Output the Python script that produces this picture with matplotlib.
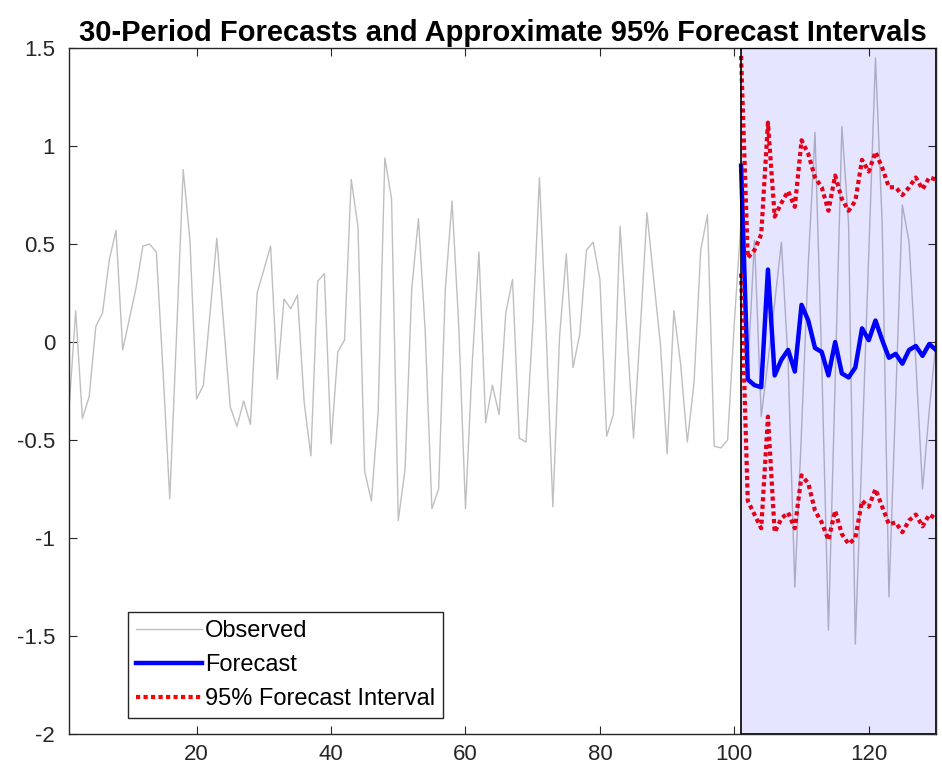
import numpy as np
import matplotlib
matplotlib.use('Agg')
import matplotlib.pyplot as plt

plt.rcParams['font.family'] = ['Liberation Sans', 'DejaVu Sans']

# observed series, periods 1..130
observed = [-0.35, 0.16, -0.39, -0.28, 0.08, 0.15, 0.42, 0.57, -0.04, 0.12,
            0.28, 0.49, 0.50, 0.46, -0.15, -0.80, 0.03, 0.88, 0.52, -0.29,
            -0.22, 0.15, 0.53, 0.10, -0.33, -0.43, -0.30, -0.42, 0.25, 0.37,
            0.49, -0.19, 0.22, 0.17, 0.24, -0.31, -0.58, 0.31, 0.35, -0.52,
            -0.05, 0.01, 0.83, 0.59, -0.66, -0.81, -0.36, 0.94, 0.73, -0.91,
            -0.65, 0.27, 0.63, 0.06, -0.85, -0.75, 0.27, 0.72, 0.08, -0.85,
            -0.11, 0.46, -0.41, -0.22, -0.37, 0.15, 0.32, -0.49, -0.51, 0.08,
            0.84, 0.05, -0.84, 0.03, 0.45, -0.13, 0.04, 0.47, 0.51, 0.32,
            -0.48, -0.37, 0.59, 0.06, -0.49, 0.06, 0.66, 0.32, -0.01, -0.57,
            0.16, -0.11, -0.51, -0.21, 0.47, 0.65, -0.53, -0.54, -0.50, 0.10,
            0.62, -0.15, 0.52, -0.38, -0.10, 0.20, 0.51, -0.10, -1.25, -0.45,
            0.40, 1.07, -0.10, -1.47, -0.20, 1.10, 0.60, -1.54, -0.55, 0.45,
            1.45, 0.60, -1.30, -0.30, 0.70, 0.51, -0.10, -0.75, -0.35, 0.00]

# 30-period forecast, periods 101..130
forecast = [0.90, -0.19, -0.22, -0.23, 0.37, -0.17, -0.09, -0.04, -0.15, 0.19,
            0.11, -0.03, -0.05, -0.17, 0.00, -0.16, -0.18, -0.13, 0.07, 0.01,
            0.11, 0.01, -0.08, -0.06, -0.11, -0.04, -0.02, -0.07, -0.01, -0.04]

upper = [1.46, 0.43, 0.47, 0.55, 1.12, 0.64, 0.71, 0.77, 0.69, 1.03,
         0.96, 0.84, 0.79, 0.67, 0.85, 0.73, 0.67, 0.72, 0.93, 0.87,
         0.97, 0.89, 0.79, 0.79, 0.75, 0.79, 0.84, 0.78, 0.84, 0.83]

lower = [0.35, -0.81, -0.88, -0.95, -0.38, -0.97, -0.90, -0.87, -0.95, -0.68,
         -0.72, -0.86, -0.92, -1.01, -0.86, -0.98, -1.03, -1.00, -0.81, -0.84,
         -0.75, -0.84, -0.93, -0.92, -0.97, -0.91, -0.88, -0.94, -0.88, -0.90]

t_obs = np.arange(1, len(observed) + 1)
t_fc = np.arange(101, 101 + len(forecast))

fig = plt.figure(figsize=(9.42, 7.76), dpi=100)
ax = fig.add_axes([0.0732, 0.054, 0.9204, 0.884])

h1, = ax.plot(t_obs, observed, color=(0.75, 0.75, 0.75), lw=1.0, label='Observed')
h2, = ax.plot(t_fc, forecast, color='blue', lw=3.2, label='Forecast')
dots = (0, (1, 0.8))
h3, = ax.plot(t_fc, upper, color='red', lw=3.0, linestyle=dots,
              label='95% Forecast Interval')
ax.plot(t_fc, lower, color='red', lw=3.0, linestyle=dots)

ax.set_xlim(1, 130)
ax.set_ylim(-2, 1.5)

# shaded forecast horizon
ax.fill([101, 130, 130, 101], [-2, -2, 1.5, 1.5],
        facecolor=(0, 0, 1, 0.1), edgecolor=(0, 0, 0, 1), lw=1.2, zorder=3)

ax.set_xticks([20, 40, 60, 80, 100, 120])
ax.set_yticks([-2, -1.5, -1, -0.5, 0, 0.5, 1, 1.5])
ax.set_yticklabels(['-2', '-1.5', '-1', '-0.5', '0', '0.5', '1', '1.5'])
ax.tick_params(direction='in', top=True, right=True, length=6, width=0.8,
               labelsize=16, colors='#262626')
ax.tick_params(axis='y', pad=10)
ax.tick_params(axis='x', pad=7)
for sp in ax.spines.values():
    sp.set_color('#262626')
    sp.set_linewidth(1.0)

ax.set_title('30-Period Forecasts and Approximate 95% Forecast Intervals',
             fontsize=21, fontweight='bold', pad=5)

leg = ax.legend(handles=[h1, h2, h3], loc='lower left',
                bbox_to_anchor=(0.068, 0.023), fontsize=17, frameon=True,
                fancybox=False, edgecolor='#262626', framealpha=1,
                handlelength=2.8, handletextpad=0.1, borderpad=0.35,
                labelspacing=0.5, borderaxespad=0)
leg.get_frame().set_linewidth(1.0)

fig.savefig('out.png', dpi=100)
